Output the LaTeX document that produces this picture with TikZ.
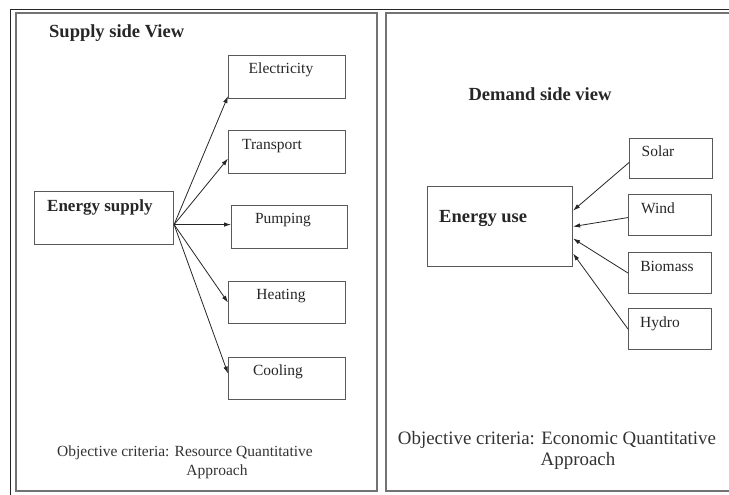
\documentclass[tikz,border=0pt]{standalone}
\usepackage{fontspec}
\setmainfont{Liberation Serif}
\usetikzlibrary{arrows.meta}
\begin{document}
\begin{tikzpicture}[x=1pt,y=-1pt,
  box/.style={draw=black!65,line width=1.1pt,anchor=north west,inner sep=0pt},
  lbl/.style={inner sep=0pt,text=black!85,font=\fontsize{15.5}{18}\selectfont,text height=0.7em,text depth=0.2em},
  ttl/.style={inner sep=0pt,text=black!85,font=\fontsize{18.5}{22}\selectfont\bfseries,text height=0.7em,text depth=0.2em},
  crit/.style={inner sep=0pt,text=black!80,text height=0.7em,text depth=0.2em},
  arr/.style={draw=black!85,line width=0.8pt,-{Latex[length=7pt,width=4.5pt]}},
  frame/.style={draw=black!55,line width=1.6pt},
  outer/.style={draw=black!85,line width=1pt}]
\useasboundingbox (0,0) rectangle (729,495);
% frames
\draw[outer] (10,495) -- (10,10) -- (729,10);
\draw[frame] (16,13) rectangle (377,491);
\draw[frame] (729,13) -- (386,13) -- (386,491) -- (729,491);
% left side
\node[ttl,anchor=west] (supt) at (49,35) {Supply side View};
\node[box,minimum width=139pt,minimum height=53pt] (es) at (34,191) {};
\node[lbl,anchor=west,font=\fontsize{17}{20}\selectfont\bfseries] (est) at (47,209) {Energy supply};
\node[box,minimum width=117pt,minimum height=43pt] (elec) at (228,55) {};
\node[box,minimum width=117pt,minimum height=43pt] (trans) at (228,130) {};
\node[box,minimum width=116pt,minimum height=43pt] (pump) at (231,205) {};
\node[box,minimum width=117pt,minimum height=42pt] (heat) at (228,281) {};
\node[box,minimum width=117pt,minimum height=42pt] (cool) at (228,357) {};
\node[lbl] (elect) at (281,71) {Electricity};
\node[lbl] (transt) at (272,147) {Transport};
\node[lbl] (pumpt) at (283,221) {Pumping};
\node[lbl] (heatt) at (281,297) {Heating};
\node[lbl] (coolt) at (278,373) {Cooling};
\coordinate (src) at ([yshift=-6.5pt]es.east);
\draw[arr] (src) -- ([yshift=3pt]elec.south west);
\draw[arr] (src) -- ([yshift=-6.5pt]trans.west);
\draw[arr] (src) -- (pump.west |- src);
\draw[arr] (src) -- (heat.west);
\draw[arr] (src) -- ([yshift=5pt]cool.west);
\node[crit,font=\fontsize{15.5}{18}\selectfont] (crl1) at (185,454) {Objective criteria: Resource Quantitative};
\node[crit,font=\fontsize{15.5}{18}\selectfont] (crl2) at (217,473) {Approach};
% right side
\node[ttl] (demt) at (540,98) {Demand side view};
\node[box,minimum width=145pt,minimum height=80pt] (eu) at (427,186) {};
\node[lbl,anchor=west,font=\fontsize{18.5}{22}\selectfont\bfseries] (eut) at (439,220) {Energy use};
\node[box,minimum width=83pt,minimum height=40pt] (solar) at (629,138) {};
\node[box,minimum width=83pt,minimum height=41pt] (wind) at (628,194) {};
\node[box,minimum width=83pt,minimum height=41pt] (bio) at (628,252) {};
\node[box,minimum width=83pt,minimum height=41pt] (hydro) at (628,308) {};
\node[lbl] (solart) at (658,154) {Solar};
\node[lbl] (windt) at (658,211) {Wind};
\node[lbl] (biot) at (667,269) {Biomass};
\node[lbl] (hydrot) at (660,325) {Hydro};
\draw[arr] ([yshift=-4pt]solar.west) -- ([yshift=16pt]eu.east);
\draw[arr] ([yshift=-2.5pt]wind.west) -- (eu.east);
\draw[arr] (bio.west) -- ([yshift=-12pt]eu.east);
\draw[arr] (hydro.west) -- ([yshift=-27pt]eu.east);
\node[crit,font=\fontsize{18.9}{22}\selectfont] (crr1) at (557,442) {Objective criteria: Economic Quantitative};
\node[crit,font=\fontsize{18.9}{22}\selectfont] (crr2) at (578,463) {Approach};
\end{tikzpicture}
\end{document}
